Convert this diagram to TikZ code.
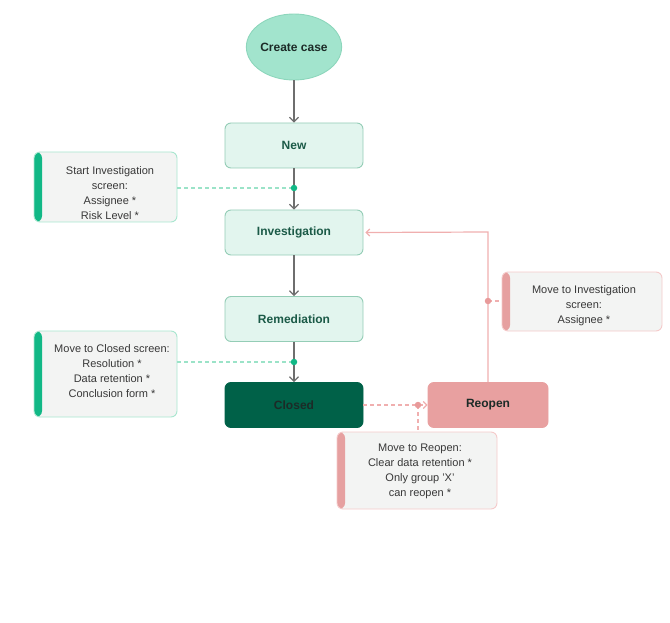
\documentclass[tikz,border=0pt]{standalone}
\usepackage{fontspec}
\setmainfont{Liberation Sans}
\usetikzlibrary{arrows.meta,shapes.geometric}
\definecolor{ellfill}{HTML}{A2E4CD}
\definecolor{elldraw}{HTML}{8DD6BC}
\definecolor{boxfill}{HTML}{E2F5EE}
\definecolor{boxdraw}{HTML}{94CDB6}
\definecolor{lbl}{HTML}{1B5A47}
\definecolor{closedfill}{HTML}{006148}
\definecolor{closedtxt}{HTML}{1C2B27}
\definecolor{reopenfill}{HTML}{E8A0A0}
\definecolor{notefill}{HTML}{F3F4F3}
\definecolor{notegreen}{HTML}{A8E6CF}
\definecolor{notepink}{HTML}{F5CACA}
\definecolor{bargreen}{HTML}{11B886}
\definecolor{barpink}{HTML}{E6A0A0}
\definecolor{arrgray}{HTML}{6E6E6E}
\definecolor{dashgreen}{HTML}{9BE3C8}
\definecolor{linepink}{HTML}{F0AFAF}
\definecolor{dotpink}{HTML}{E89A9A}
\definecolor{notetxt}{HTML}{383838}
\tikzset{
  state/.style={draw=boxdraw, fill=boxfill, rounded corners=6pt, minimum width=138pt, minimum height=45pt, text=lbl, font=\fontsize{12}{14}\selectfont\bfseries, line width=0.9pt},
  notebox/.style={fill=notefill, rounded corners=6pt, line width=0.9pt},
  gnote/.style={notebox, draw=notegreen, path picture={\fill[bargreen] (path picture bounding box.north west) rectangle ([xshift=8pt]path picture bounding box.south west);}},
  pnote/.style={notebox, draw=notepink, path picture={\fill[barpink] (path picture bounding box.north west) rectangle ([xshift=8pt]path picture bounding box.south west);}},
  notetext/.style={align=center, text=notetxt, font=\fontsize{11}{15}\selectfont, inner sep=0pt},
  flow/.style={draw=arrgray, line width=1.2pt, -{Straight Barb[length=4.5pt,width=9pt]}},
  gdash/.style={draw=dashgreen, line width=1.2pt, dash pattern=on 4pt off 3pt},
  pdash/.style={draw=linepink, line width=1.2pt, dash pattern=on 4pt off 3pt},
  pline/.style={draw=linepink, line width=1.2pt},
  gdot/.style={circle, fill=bargreen, inner sep=0pt, minimum size=6.5pt},
  pdot/.style={circle, fill=dotpink, inner sep=0pt, minimum size=6.5pt},
}
\begin{document}
\begin{tikzpicture}[x=1pt,y=-1pt]
\useasboundingbox (0,0) rectangle (670,623);
% states
\node[ellipse, draw=elldraw, fill=ellfill, minimum width=90pt, minimum height=66pt, inner sep=0pt, line width=0.9pt, font=\fontsize{12}{14}\selectfont\bfseries, text=closedtxt] (create) at (294,47) {Create case};
\node[state] (new) at (294,145.5) {New};
\node[state] (inv) at (294,232.5) {Investigation};
\node[state] (rem) at (294,319) {Remediation};
\node[state, fill=closedfill, draw=closedfill, text=closedtxt] (closed) at (294,405) {Closed};
\node[state, fill=reopenfill, draw=reopenfill, text=closedtxt, minimum width=120pt] (reopen) at (488,405) {Reopen};
% notes
\node[gnote, minimum width=143pt, minimum height=70pt] (n1box) at (105.5,187) {};
\node[notetext] (n1) at (110,193.5) {Start Investigation\\screen:\\Assignee *\\Risk Level *};
\node[gnote, minimum width=143pt, minimum height=86pt] (n2box) at (105.5,374) {};
\node[notetext] (n2) at (112,371.5) {Move to Closed screen:\\Resolution *\\Data retention *\\Conclusion form *};
\node[pnote, minimum width=160pt, minimum height=59pt] (n3box) at (582,301.5) {};
\node[notetext] (n3) at (584,306) {Move to Investigation\\screen:\\Assignee *};
\node[pnote, minimum width=160pt, minimum height=77pt] (n4box) at (417,470.5) {};
\node[notetext] (n4) at (420,471) {Move to Reopen:\\Clear data retention *\\Only group 'X'\\can reopen *};
% dot positions
\coordinate (c1) at (294,188);
\coordinate (c2) at (294,362);
\coordinate (c3) at (418,405);
\coordinate (c4) at (488,301);
\coordinate (corner) at (488,232);
% flow
\draw[flow] (create) -- (new);
\draw[flow] (new) -- (inv);
\draw[flow] (inv) -- (rem);
\draw[flow] (rem) -- (closed);
\draw[pdash, -{Straight Barb[length=3.5pt,width=7pt]}] (closed) -- (reopen);
\draw[pline, -{Straight Barb[length=3.5pt,width=7pt]}] (reopen.north) -- (corner) -- ([xshift=2pt]inv.east);
% dashed note connectors
\draw[gdash] (n1box.east |- c1) -- (c1);
\draw[gdash] (n2box.east |- c2) -- (c2);
\draw[pdash] (c4) -- (n3box.west |- c4);
\draw[pdash] (c3) -- (c3 |- n4box.north);
% dots on top
\node[gdot] (d1) at (c1) {};
\node[gdot] (d2) at (c2) {};
\node[pdot] (d3) at (c3) {};
\node[pdot] (d4) at (c4) {};
\end{tikzpicture}
\end{document}
